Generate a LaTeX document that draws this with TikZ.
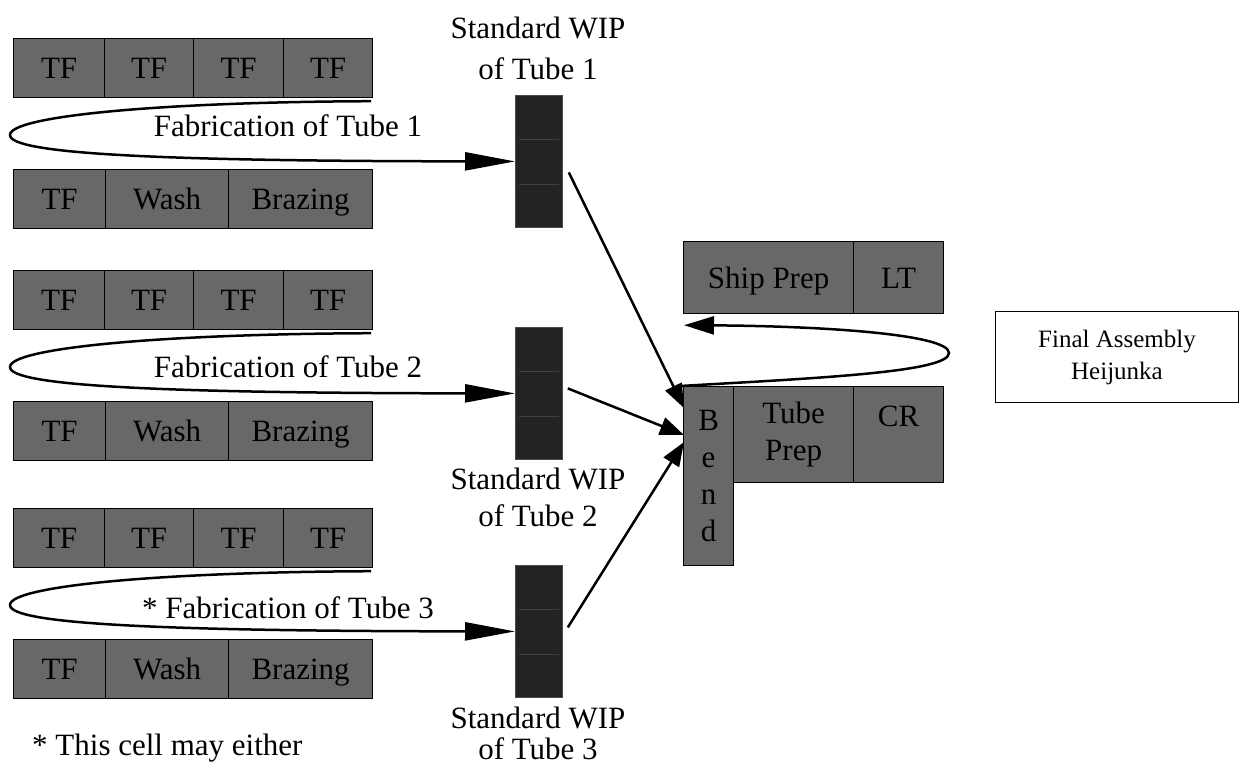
\documentclass[tikz,border=0pt]{standalone}
\usepackage{fontspec}
\setmainfont{Liberation Serif}
\usetikzlibrary{arrows.meta,calc}

\begin{document}
\begin{tikzpicture}[x=1pt,y=-1pt]
    % Define colours
    \definecolor{cellColour}{HTML}{686868}
    \definecolor{wipColour}{HTML}{232323}

    % Define styles
    \tikzset{
        cellbox/.style={draw=black, line width=1.2pt, fill=cellColour, minimum height=59, inner sep=0pt,
            anchor=north west, font=\fontsize{31}{37}\selectfont, align=center},
        cell/.style={cellbox, text height=21pt, text depth=0pt},
        wipbar/.style={draw=black!70, line width=0.8pt, fill=wipColour, minimum width=47,
            minimum height=132, inner sep=0pt, anchor=north west},
        wiptext/.style={font=\fontsize{31}{41}\selectfont, align=center, inner sep=0pt},
        flow/.style={line width=2.5pt, -{Triangle[length=50pt,width=18pt]}},
        feed/.style={line width=2.5pt, -{Triangle[length=24pt,width=18pt]}},
        back/.style={line width=2.5pt, -{Triangle[length=30pt,width=18pt]}}
    }

    % Fix page size
    \useasboundingbox (0,0) rectangle (1241,766);

    % Draw the three tube cells
    \foreach \g/\y/\t/\lab in {1/38/126/{Fabrication of Tube 1},
                               2/270/367/{Fabrication of Tube 2},
                               3/508/608/{* Fabrication of Tube 3}} {
        % TF row
        \node[cell, minimum width=91] (tfA\g) at (13,\y) {TF};
        \node[cell, minimum width=89] (tfB\g) at (104,\y) {TF};
        \node[cell, minimum width=90] (tfC\g) at (193,\y) {TF};
        \node[cell, minimum width=89] (tfD\g) at (283,\y) {TF};

        % TF, Wash and Brazing row
        \node[cell, minimum width=92] (tfE\g) at (13,\y+131) {TF};
        \node[cell, minimum width=123] (wash\g) at (105,\y+131) {Wash};
        \node[cell, minimum width=144] (braz\g) at (228,\y+131) {Brazing};

        % Standard WIP
        \node[wipbar] (wip\g) at (515,\y+57) {};
        \draw[black!75, line width=1pt] ($(wip\g.north west)+(4,44)$) -- ($(wip\g.north east)+(-4,44)$);
        \draw[black!75, line width=1pt] ($(wip\g.north west)+(4,89)$) -- ($(wip\g.north east)+(-4,89)$);

        % Loop
        \coordinate (start\g) at ($(tfD\g.south east)+(-2,3)$);
        \coordinate (turn\g) at (10,\y+97);
        \draw[flow] (start\g) .. controls (160,\y+64) and (10,\y+78) .. (turn\g)
            .. controls (10,\y+116) and (160,\y+123) .. (wip\g.west);
        \node[wiptext] (fab\g) at (288,\t) {\lab};
    }

    % WIP labels
    \node[wiptext] (lblA) at (538,48) {Standard WIP\\of Tube 1};
    \node[wiptext] (lblB) at (538,497) {Standard WIP\\[-4pt]of Tube 2};
    \node[wiptext] (lblC) at (538,733) {Standard WIP\\[-10pt]of Tube 3};

    % Footnote
    \node[wiptext, anchor=west] (note) at (32,748) {* This cell may either};

    % Final assembly cells
    \node[cell, minimum width=170, minimum height=72] (ship) at (683,241) {Ship Prep};
    \node[cell, minimum width=90, minimum height=72] (lt) at (853,241) {LT};
    \node[cellbox, minimum width=50, minimum height=179] (bend) at (683,386) {B\\e\\n\\d};
    \node[cellbox, minimum width=120, minimum height=96] (prep) at (733,386) {Tube\\Prep};
    \node[cellbox, minimum width=90, minimum height=96] (cr) at (853,386) {CR\\~};

    % Heijunka box
    \node[draw, line width=1.2pt, minimum width=243, minimum height=91, inner sep=0pt,
        font=\fontsize{25}{32}\selectfont, align=center] (heij) at (1117,357)
        {Final Assembly\\Heijunka};

    % Feed arrows into Bend
    \coordinate (inA) at (684,408);
    \coordinate (inB) at (684,435);
    \coordinate (inC) at (684,442);
    \draw[feed] ($(wip1.east)+(6,11)$) -- (inA);
    \draw[feed] ($(wip2.east)+(5,-5)$) -- (inB);
    \draw[feed] ($(wip3.east)+(5,-4)$) -- (inC);

    % Return loop
    \coordinate (retS) at ($(bend.north west)+(-3,0)$);
    \coordinate (retT) at (949,353);
    \draw[back] (retS) .. controls (820,378) and (949,372) .. (retT)
        .. controls (949,334) and (820,326) .. ($(ship.south west)+(1,11)$);
\end{tikzpicture}
\end{document}
